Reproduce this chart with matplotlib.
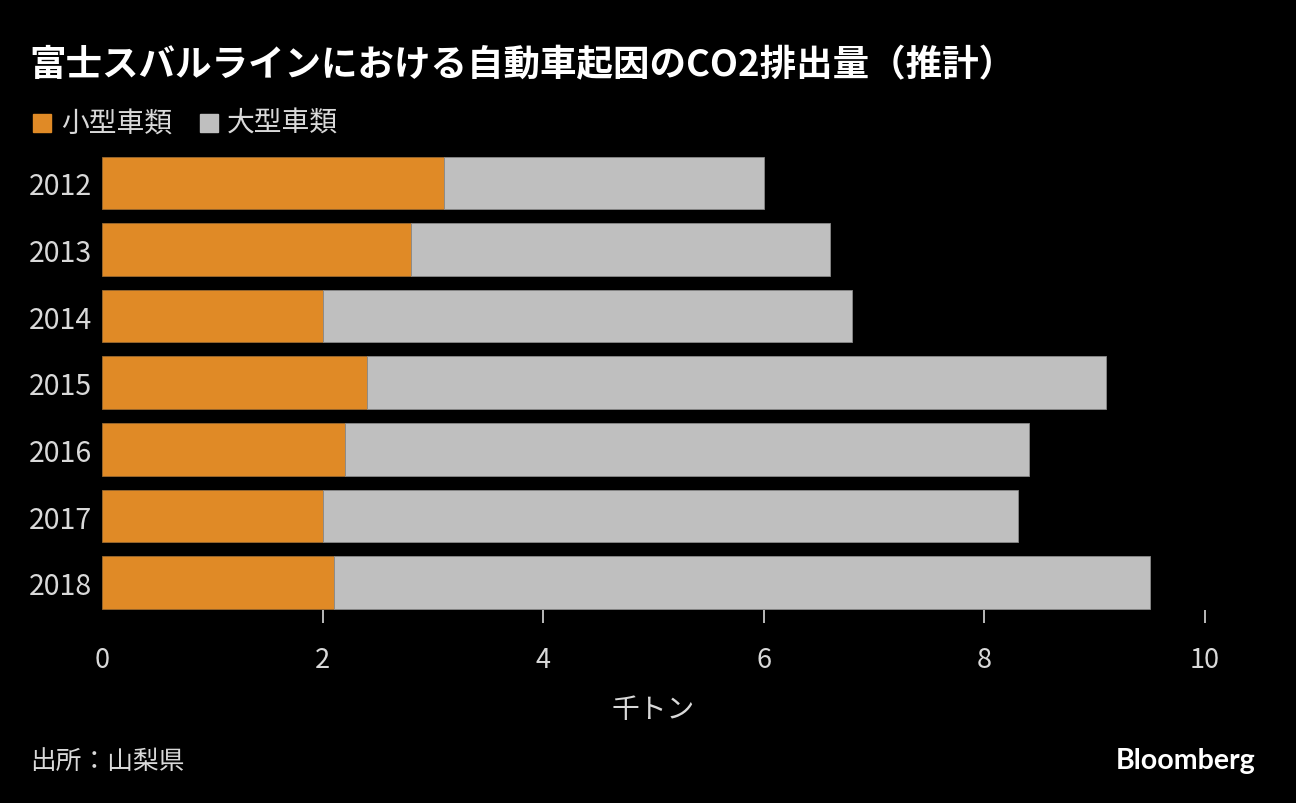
import matplotlib
matplotlib.use("Agg")
import matplotlib.pyplot as plt
from matplotlib.patches import Rectangle

plt.rcParams['font.family'] = ['Noto Sans CJK JP', 'DejaVu Sans']

# data (thousand tons)
years = ['2012', '2013', '2014', '2015', '2016', '2017', '2018']
small_cars = [3.1, 2.8, 2.0, 2.4, 2.2, 2.0, 2.1]
large_cars = [2.9, 3.8, 4.8, 6.7, 6.2, 6.3, 7.4]
xticks = [0, 2, 4, 6, 8, 10]

orange = '#E08A26'
gray = '#BFBFBF'
txt = '#D9D9D9'

fig = plt.figure(figsize=(12.96, 8.04), dpi=100, facecolor='black')
ax = fig.add_axes([0.0787, 0.240, 0.8511, 0.581], facecolor='black')

ypos = list(range(len(years)))
ax.barh(ypos, small_cars, height=0.79, color=orange, edgecolor='#9a6a30', linewidth=0.6)
ax.barh(ypos, large_cars, left=small_cars, height=0.79, color=gray, edgecolor='#8a8a8a', linewidth=0.6)

ax.set_xlim(0, 10)
ax.set_ylim(6.41, -0.6)
ax.set_yticks(ypos)
ax.set_yticklabels(years)
ax.set_xticks(xticks)
ax.set_xticklabels([str(t) for t in xticks])
for s in ax.spines.values():
    s.set_visible(False)
ax.tick_params(axis='y', length=0, pad=7, labelsize=20.5, labelcolor=txt)
ax.tick_params(axis='x', direction='out', length=9, width=1.2, color=txt,
               pad=17, labelsize=19.5, labelcolor=txt)
ax.xaxis.get_major_ticks()[0].tick1line.set_visible(False)
ax.set_xlabel('千トン', fontsize=20, color=txt, labelpad=15)

fig.text(0.023, 0.918, '富士スバルラインにおける自動車起因のCO2排出量（推計）',
         fontsize=26.3, fontweight='bold', color='white', va='center')

# legend
fig.patches.append(Rectangle((0.0255, 0.834), 0.0135, 0.0225, transform=fig.transFigure,
                             color=orange))
fig.text(0.047, 0.846, '小型車類', fontsize=20, color=txt, va='center')
fig.patches.append(Rectangle((0.1545, 0.834), 0.0135, 0.0225, transform=fig.transFigure,
                             color=gray))
fig.text(0.175, 0.846, '大型車類', fontsize=20, color=txt, va='center')

fig.text(0.023, 0.052, '出所：山梨県', fontsize=18.5, color=txt, va='center')
fig.text(0.969, 0.054, 'Bloomberg', fontsize=20.5, fontweight='bold', color='white',
         va='center', ha='right', family=['Lato', 'DejaVu Sans'])

fig.savefig('out.png', dpi=100, facecolor='black')
